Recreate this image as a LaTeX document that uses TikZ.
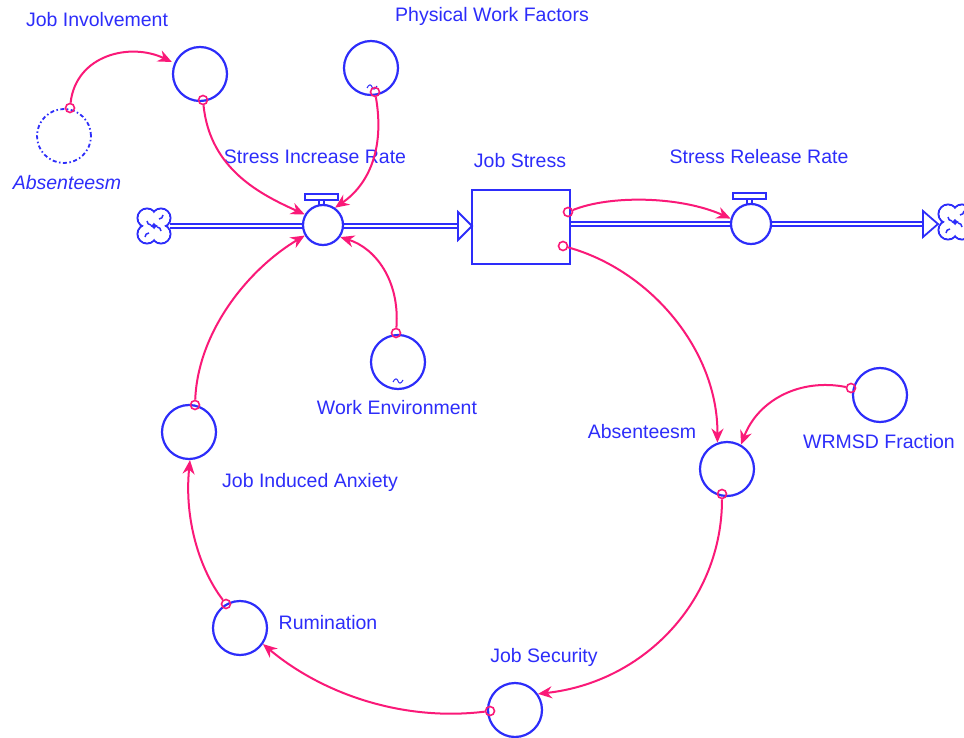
\documentclass[tikz,border=0pt]{standalone}
\usepackage{fontspec}
\setmainfont{Liberation Sans}
\usetikzlibrary{arrows.meta}
\definecolor{sdblue}{RGB}{45,45,250}
\definecolor{sdpink}{RGB}{250,25,120}
\tikzset{
  lbl/.style={text=sdblue,inner sep=0pt,font=\fontsize{19.5}{23}\selectfont},
  auxvar/.style={circle,draw=sdblue,line width=2.2pt,minimum size=54pt,inner sep=0pt,fill=white},
  ghostvar/.style={circle,draw=sdblue,line width=1.8pt,minimum size=54pt,inner sep=0pt,dash pattern=on 4pt off 2.5pt on 1.5pt off 2.5pt},
  valvebody/.style={circle,draw=sdblue,line width=2.2pt,minimum size=40pt,inner sep=0pt,fill=white},
  stockbox/.style={draw=sdblue,line width=2pt,minimum width=98pt,minimum height=74pt,inner sep=0pt,fill=white},
  pipe/.style={draw=sdblue,line width=1.8pt,double=white,double distance=2.6pt},
  link/.style={draw=sdpink,line width=2pt,-{Stealth[length=14pt,width=12pt]}},
  linkorigin/.style={circle,draw=sdpink,line width=1.6pt,minimum size=9pt,inner sep=0pt},
  tildemark/.style={draw=sdblue,line width=1pt}
}
% valve handle: bar on a short stem above the valve body
\newcommand{\valvehandle}[2]{%
  \draw[sdblue,line width=1.5pt,fill=white] (#1-17,#2-31) rectangle (#1+16,#2-25);
  \draw[sdblue,line width=1.5pt] (#1-3,#2-25) -- (#1-3,#2-19) (#1+2,#2-25) -- (#1+2,#2-19);}
% four-lobed cloud for sources and sinks
\newcommand{\cloudmark}[2]{%
  \foreach \dx/\dy in {-7/-8,7/-8,7/8,-7/8}
    \draw[sdblue,line width=2pt,fill=white] (#1+\dx,#2+\dy) circle (9.5pt);
  \foreach \dx/\dy in {-7/-8,7/-8,7/8,-7/8}
    \fill[white] (#1+\dx,#2+\dy) circle (8.4pt);
  \draw[sdblue,line width=1.5pt] (#1-7,#2-5) arc (180:90:4) (#1+5,#2-7) arc (90:0:4)
    (#1+7,#2+5) arc (0:-90:4) (#1-5,#2+7) arc (-90:-180:4);}
\begin{document}
\begin{tikzpicture}[x=1pt,y=-1pt]
\useasboundingbox[fill=white] (0,0) rectangle (964,738);

% source and sink anchors
\coordinate (src) at (170,226);
\coordinate (snk) at (938,224);

% stock
\node[stockbox] (stock) at (521,227) {};

% inflow pipe
\coordinate (inTip) at (472,226);
\draw[pipe] (src) -- (460,226);
\draw[sdblue,line width=1.8pt,fill=white] (inTip) -- (458,212) -- (458,240) -- cycle;
% outflow pipe
\draw[pipe] (stock.east |- 0,224) -- (924,224);
\draw[sdblue,line width=1.8pt,fill=white] (snk) -- (923,211) -- (923,237) -- cycle;

% clouds
\cloudmark{154}{226}
\cloudmark{955}{222}

% valves
\valvehandle{322}{225}
\node[valvebody] (vin) at (323,225) {};
\valvehandle{750}{224}
\node[valvebody] (vout) at (751,224) {};

% auxiliaries
\node[auxvar] (jinv) at (200,74) {};
\node[auxvar] (pwf) at (371,68) {};
\node[ghostvar] (absg) at (64,136) {};
\node[auxvar] (wenv) at (398,362) {};
\node[auxvar] (jia) at (189,432) {};
\node[auxvar] (rum) at (240,628) {};
\node[auxvar] (jsec) at (515,710) {};
\node[auxvar] (abs) at (727,469) {};
\node[auxvar] (wrmsd) at (880,395) {};

% graphical-function markers
\draw[tildemark] (367,88) .. controls (369,84) and (371,84) .. (372,87) .. controls (373,90) and (375,90) .. (377,86);
\draw[tildemark] (393,382) .. controls (395,378) and (397,378) .. (398,381) .. controls (399,384) and (401,384) .. (403,380);

% labels
\node[lbl] (ljinv) at (97,20) {Job Involvement};
\node[lbl] (lpwf) at (492,16) {Physical Work Factors};
\node[lbl,font=\fontsize{19.5}{23}\selectfont\itshape] (labsg) at (67,183) {Absenteesm};
\node[lbl] (lvin) at (315,157) {Stress Increase Rate};
\node[lbl] (lstock) at (520,161) {Job Stress};
\node[lbl] (lvout) at (759,157) {Stress Release Rate};
\node[lbl] (lwenv) at (397,408) {Work Environment};
\node[lbl] (labs) at (642,432) {Absenteesm};
\node[lbl] (lwrmsd) at (879,442) {WRMSD Fraction};
\node[lbl] (ljia) at (310,482) {Job Induced Anxiety};
\node[lbl] (lrum) at (328,623) {Rumination};
\node[lbl] (ljsec) at (544,657) {Job Security};

% link origins
\node[linkorigin] (o1) at (70,108) {};
\node[linkorigin] (o2) at (203,100) {};
\node[linkorigin] (o3) at (375,92) {};
\node[linkorigin] (o4) at (396,333) {};
\node[linkorigin] (o5) at (195,405) {};
\node[linkorigin] (o6) at (226,604) {};
\node[linkorigin] (o7) at (490,711) {};
\node[linkorigin] (o8) at (722,494) {};
\node[linkorigin] (o9) at (563,246) {};
\node[linkorigin] (o10) at (851,388) {};
\node[linkorigin] (o11) at (568,212) {};

% causal links
\draw[link] (o1) .. controls (76,55) and (130,42) .. (jinv.west |- 0,62);
\draw[link] (o2) .. controls (210,170) and (262,195) .. (vin.150);
\draw[link] (o3) .. controls (385,150) and (368,185) .. (vin.55);
\draw[link] (o4) .. controls (400,280) and (375,248) .. (vin.-35);
\draw[link] (o5) .. controls (198,330) and (250,268) .. (vin.-150);
\draw[link] (o6) .. controls (200,570) and (184,520) .. (jia.-88);
\draw[link] (o7) .. controls (400,722) and (320,692) .. (rum.-35);
\draw[link] (o8) .. controls (722,600) and (645,682) .. (jsec.35);
\draw[link] (o9) .. controls (650,270) and (718,350) .. (abs.110);
\draw[link] (o10) .. controls (800,378) and (758,400) .. (abs.60);
\draw[link] (o11) .. controls (610,195) and (680,196) .. (vout.165);
\end{tikzpicture}
\end{document}
